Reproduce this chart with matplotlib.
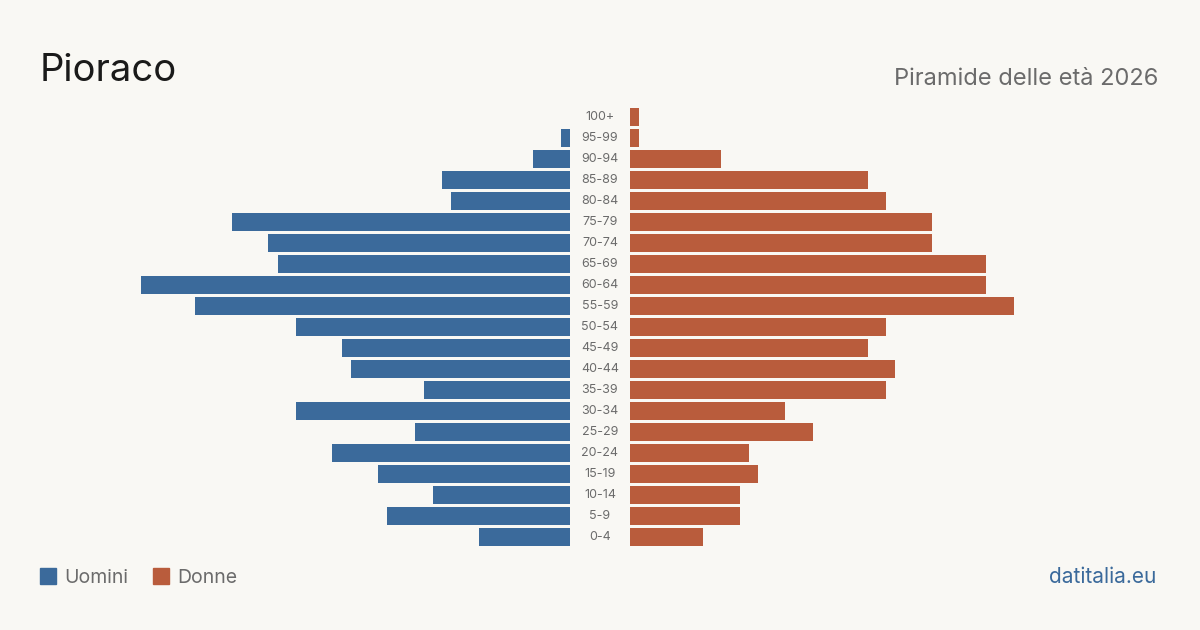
import matplotlib.pyplot as plt
from matplotlib.transforms import blended_transform_factory

ages = ["100+", "95-99", "90-94", "85-89", "80-84", "75-79", "70-74", "65-69",
        "60-64", "55-59", "50-54", "45-49", "40-44", "35-39", "30-34", "25-29",
        "20-24", "15-19", "10-14", "5-9", "0-4"]
uomini = [0, 1, 4, 14, 13, 37, 33, 32, 47, 41, 30, 25, 24, 16, 30, 17, 26, 21, 15, 20, 10]
donne = [1, 1, 10, 26, 28, 33, 33, 39, 39, 42, 28, 26, 29, 28, 17, 20, 13, 14, 12, 12, 8]

BG = "#f9f8f4"
BLUE = "#3b6a9b"
RED = "#b95c3c"
GREY = "#6b6b6b"

plt.rcParams["font.family"] = ["Inter", "DejaVu Sans"]

fig = plt.figure(figsize=(12, 6.3), dpi=100, facecolor=BG)
W, H = 1200, 630

bottom = (H - 547.5) / H
height = 441 / H
xmax = 58

ax_l = fig.add_axes([40 / W, bottom, 530 / W, height])
ax_r = fig.add_axes([630 / W, bottom, 530 / W, height])

ypos = list(range(len(ages)))
ax_l.barh(ypos, uomini, height=0.81, color=BLUE)
ax_r.barh(ypos, donne, height=0.81, color=RED)

ax_l.set_xlim(xmax, 0)
ax_r.set_xlim(0, xmax)
for ax in (ax_l, ax_r):
    ax.set_ylim(len(ages) - 0.5, -0.5)
    ax.axis("off")
    ax.set_facecolor("none")

tr = blended_transform_factory(fig.transFigure, ax_r.transData)
for i, lab in enumerate(ages):
    ax_r.text(0.5, i, lab, transform=tr, ha="center", va="center",
              fontsize=9, color=GREY)

fig.text(40 / W, 1 - 81 / H, "Pioraco", fontsize=27.5, color="#1a1a1a",
         ha="left", va="baseline")
fig.text(1158 / W, 1 - 85 / H, "Piramide delle età 2026", fontsize=17,
         color=GREY, ha="right", va="baseline")

# legend
fig.patches.append(plt.Rectangle((40 / W, 1 - 584 / H), 16 / W, 16 / H,
                                 transform=fig.transFigure, color=BLUE))
fig.text(64 / W, 1 - 583 / H, "Uomini", fontsize=14, color=GREY,
         ha="left", va="baseline")
fig.patches.append(plt.Rectangle((153 / W, 1 - 584 / H), 16 / W, 16 / H,
                                 transform=fig.transFigure, color=RED))
fig.text(177 / W, 1 - 583 / H, "Donne", fontsize=14, color=GREY,
         ha="left", va="baseline")

fig.text(1156 / W, 1 - 583 / H, "datitalia.eu", fontsize=15, color=BLUE,
         ha="right", va="baseline")

fig.savefig("out.png", dpi=100, facecolor=BG)
